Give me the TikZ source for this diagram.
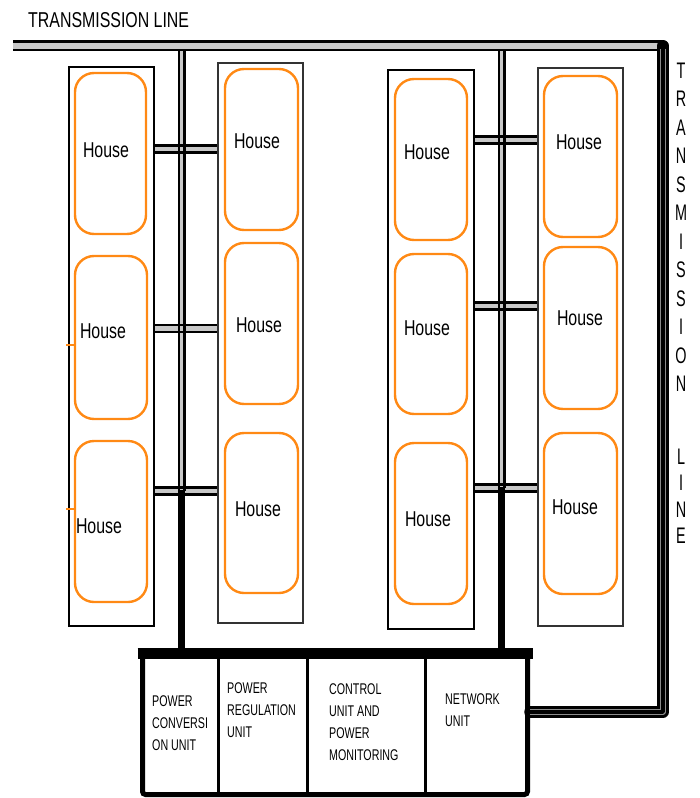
\documentclass[tikz,border=0pt]{standalone}
\usepackage{fontspec}
\setmainfont{Liberation Sans}[FakeStretch=0.74]
\newfontfamily\boxfont{Liberation Sans}[FakeStretch=0.69]
\newfontfamily\vfont{Liberation Sans}[FakeStretch=0.64]
\definecolor{hor}{RGB}{255,137,20}
\definecolor{bargray}{RGB}{200,200,200}
\tikzset{
  col/.style={draw=#1, line width=2.6pt, inner sep=0},
  house/.style={draw=hor, line width=2.4pt, rounded corners=19pt, inner sep=0},
  htext/.style={font=\fontsize{21.5}{21.5}\selectfont, inner sep=0},
  conn/.style={line width=2.6pt, double=bargray, double distance=4.2pt},
  busfill/.style={line width=3.6pt, draw=bargray},
  busedge/.style={line width=2.2pt, draw=black},
  busblack/.style={line width=7.5pt, draw=black},
  mainbar/.style={line width=2.6pt, double=bargray, double distance=6pt},
  unitbox/.style={draw=black, line width=5pt, rounded corners=3pt, inner sep=0},
  divider/.style={line width=3pt, draw=black},
  unittext/.style={font=\boxfont\fontsize{15.5}{22}\selectfont, align=left, anchor=north west, inner sep=0},
  tick/.style={draw=hor, line width=2pt},
}
\begin{document}
\begin{tikzpicture}[x=1pt,y=-1pt]
\useasboundingbox (0,0) rectangle (699,798);

% columns
\node[col=black, minimum width=85pt, minimum height=559pt] (colA) at (111.5,346.5) {};
\node[col=black!80, minimum width=85pt, minimum height=560pt] (colB) at (260.5,343) {};
\node[col=black, minimum width=86pt, minimum height=559pt] (colC) at (431,349.5) {};
\node[col=black!80, minimum width=85pt, minimum height=558pt] (colD) at (580.5,347) {};

% houses
\node[house, minimum width=71pt, minimum height=161pt] (A1) at (110.5,153.5) {};
\node[house, minimum width=72pt, minimum height=163pt] (A2) at (111,337.5) {};
\node[house, minimum width=72pt, minimum height=161pt] (A3) at (111,521.5) {};
\node[house, minimum width=73pt, minimum height=161pt] (B1) at (261.5,149.5) {};
\node[house, minimum width=73pt, minimum height=161pt] (B2) at (261.5,323.5) {};
\node[house, minimum width=73pt, minimum height=160pt] (B3) at (261.5,513) {};
\node[house, minimum width=72pt, minimum height=161pt] (C1) at (431,159.5) {};
\node[house, minimum width=72pt, minimum height=160pt] (C2) at (431,334) {};
\node[house, minimum width=72pt, minimum height=161pt] (C3) at (431,523.5) {};
\node[house, minimum width=73pt, minimum height=161pt] (D1) at (580.5,156.5) {};
\node[house, minimum width=73pt, minimum height=162pt] (D2) at (580.5,328) {};
\node[house, minimum width=73pt, minimum height=161pt] (D3) at (580.5,513.5) {};

% house labels
\node[htext] (tA1) at (106,150) {House};
\node[htext] (tA2) at (103,331) {House};
\node[htext] (tA3) at (99,526) {House};
\node[htext] (tB1) at (257,141) {House};
\node[htext] (tB2) at (259,325) {House};
\node[htext] (tB3) at (258,509) {House};
\node[htext] (tC1) at (427,152) {House};
\node[htext] (tC2) at (427,328) {House};
\node[htext] (tC3) at (428,519) {House};
\node[htext] (tD1) at (579,142) {House};
\node[htext] (tD2) at (580,318) {House};
\node[htext] (tD3) at (575,507) {House};

% small orange ticks
\coordinate (k1) at (66,345);
\coordinate (k2) at (66,509);
\draw[tick] (k1) -- (A2.west |- k1);
\draw[tick] (k2) -- (A3.west |- k2);

% unit box
\node[unitbox, minimum width=385pt, minimum height=142pt] (box) at (335,723.5) {};

% buses
\coordinate (b1top) at (181.5,50);
\coordinate (b1mid) at (181.5,491);
\coordinate (b2top) at (501.5,50);
\coordinate (b2mid) at (501.5,488);
\coordinate (b1bot) at (b1top |- box.north);
\coordinate (b2bot) at (b2top |- box.north);

\draw[busfill] (b1top) -- (b1mid);
\draw[busfill] (b2top) -- (b2mid);

% connectors between columns
\draw[conn] (colA.east |- 0,149) -- (colB.west |- 0,149);
\draw[conn] (colA.east |- 0,328.5) -- (colB.west |- 0,328.5);
\draw[conn] (colA.east |- 0,491) -- (colB.west |- 0,491);
\draw[conn] (colC.east |- 0,140) -- (colD.west |- 0,140);
\draw[conn] (colC.east |- 0,306) -- (colD.west |- 0,306);
\draw[conn] (colC.east |- 0,488) -- (colD.west |- 0,488);

\draw[busedge] ([xshift=-2.9pt]b1top) -- ([xshift=-2.9pt]b1mid);
\draw[busedge] ([xshift=2.9pt]b1top) -- ([xshift=2.9pt]b1mid);
\draw[busedge] ([xshift=-2.9pt]b2top) -- ([xshift=-2.9pt]b2mid);
\draw[busedge] ([xshift=2.9pt]b2top) -- ([xshift=2.9pt]b2mid);
\draw[busblack] ([yshift=1pt]b1mid) -- (b1bot);
\draw[busblack] ([yshift=1pt]b2mid) -- (b2bot);

% transmission line
\coordinate (tl) at (13,45.75);
\coordinate (tr) at (663,45.75);
\coordinate (br) at (663,712);
\draw[mainbar] (tl) -- (tr);
\draw[black, line width=11.5pt, line join=round, line cap=round] (tr) -- (br) -- (box.east |- br);
\draw[black!45, line width=5.5pt, line join=round] ([yshift=-3pt]tr) -- (br) -- (box.east |- br);
\draw[black, line width=3.5pt, line join=round] ([yshift=-3pt]tr) -- (br) -- (box.east |- br);

% unit box thick top and dividers
\draw[black, line width=11pt] ([xshift=-2.5pt,yshift=-3.5pt]box.north west) -- ([xshift=2.5pt,yshift=-3.5pt]box.north east);
\draw[divider] (218,0 |- box.north) -- (218,0 |- box.south);
\draw[divider] (307.5,0 |- box.north) -- (307.5,0 |- box.south);
\draw[divider] (425.5,0 |- box.north) -- (425.5,0 |- box.south);

\node[unittext] (u1) at (152,695) {POWER\\CONVERSI\\ON UNIT};
\node[unittext] (u2) at (227,682) {POWER\\REGULATION\\UNIT};
\node[unittext] (u3) at (329,683) {CONTROL\\UNIT AND\\POWER\\MONITORING};
\node[unittext] (u4) at (445,693) {NETWORK\\UNIT};

% titles
\node[anchor=base west, inner sep=0, font=\fontsize{21.5}{21.5}\selectfont] (title) at (28,27) {TRANSMISSION LINE};
\node[anchor=north, inner sep=0, align=center, font=\vfont\fontsize{22.5}{28.5}\selectfont] (vtitle) at (681,62.5)
  {T\\R\\A\\N\\S\\M\\I\\S\\S\\I\\O\\N\\[44pt]L\\[-2pt]I\\[-2pt]N\\[-2pt]E};
\end{tikzpicture}
\end{document}
